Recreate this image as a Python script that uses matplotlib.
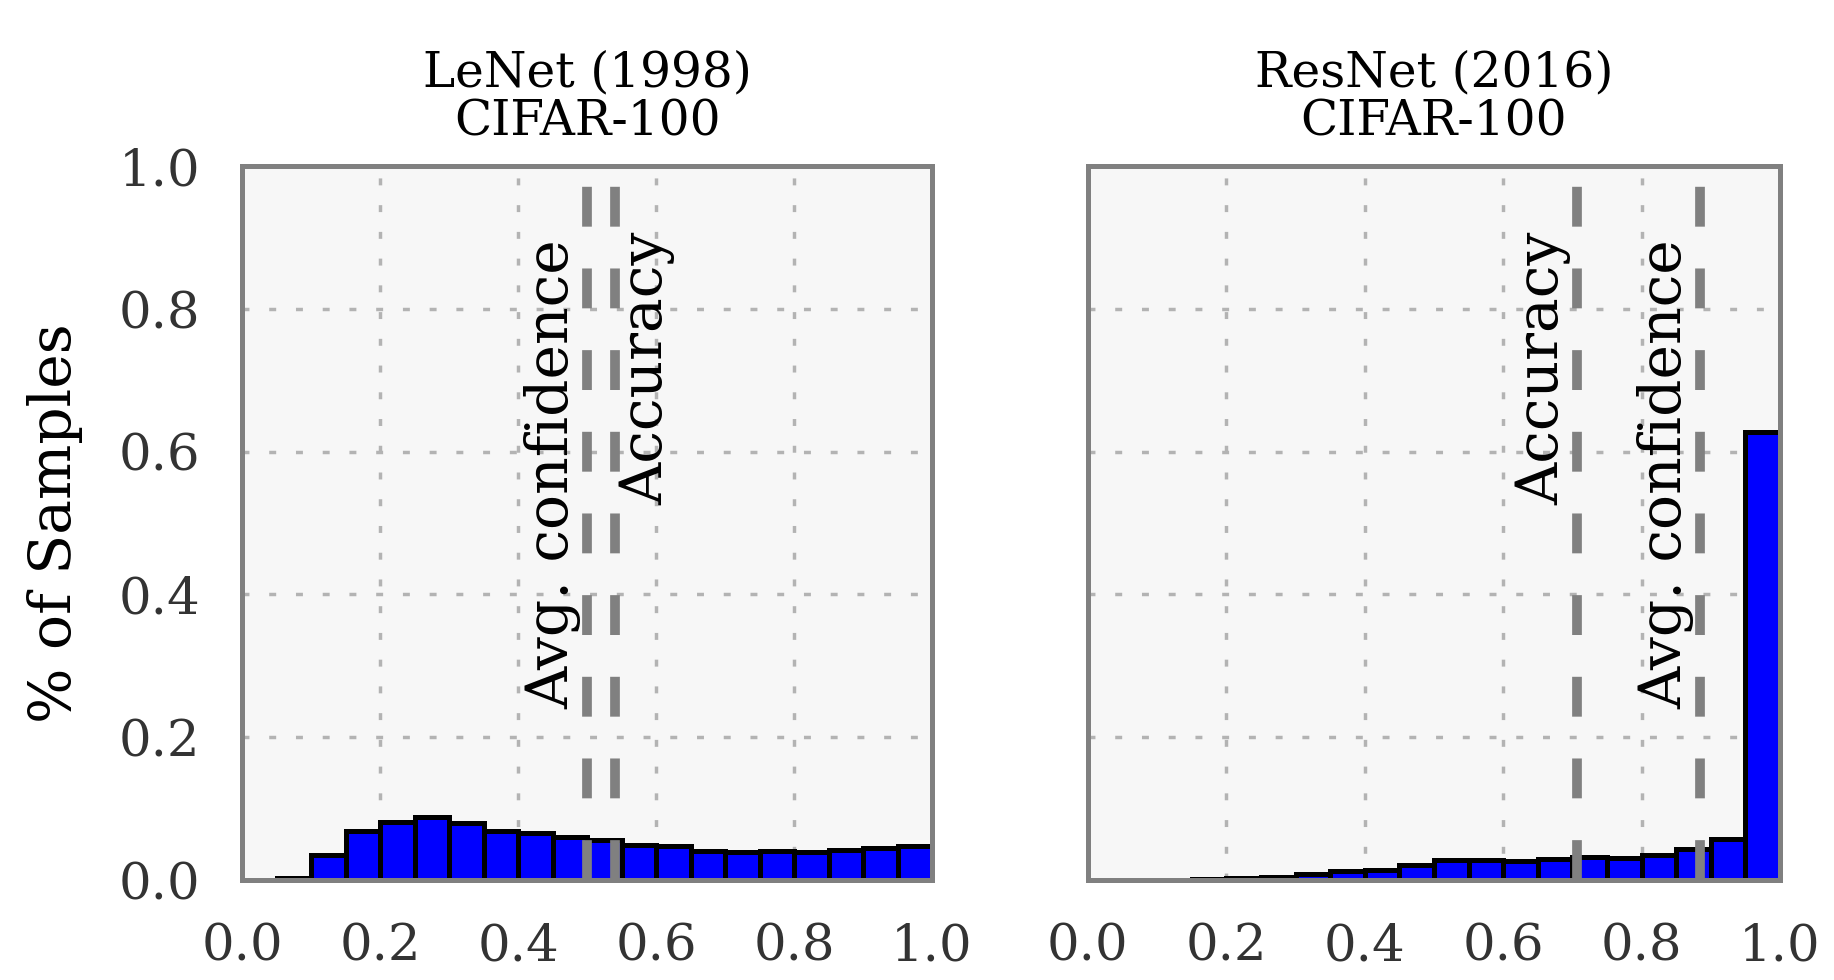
import numpy as np
import matplotlib
matplotlib.use("Agg")
import matplotlib.pyplot as plt

plt.rcParams["font.family"] = "DejaVu Serif"

# confidence histograms, 20 bins of width 0.05 (fraction of samples per bin)
bin_edges = np.linspace(0.0, 1.0, 21)
lenet_hist = [0.000, 0.003, 0.035, 0.069, 0.081, 0.088, 0.080, 0.068, 0.066, 0.060,
              0.056, 0.049, 0.047, 0.041, 0.039, 0.040, 0.039, 0.042, 0.045, 0.047]
resnet_hist = [0.000, 0.000, 0.000, 0.001, 0.003, 0.004, 0.009, 0.012, 0.014, 0.021,
               0.028, 0.028, 0.026, 0.030, 0.032, 0.031, 0.035, 0.043, 0.058, 0.628]

# accuracy / average confidence markers
lenet_acc, lenet_conf = 0.54, 0.50
resnet_acc, resnet_conf = 0.707, 0.885

titles = ["LeNet (1998)\nCIFAR-100", "ResNet (2016)\nCIFAR-100"]
ticks = [0.0, 0.2, 0.4, 0.6, 0.8, 1.0]

fig = plt.figure(figsize=(18.34, 9.8), dpi=100)
ax1 = fig.add_axes([0.132, 0.102, 0.3762, 0.7286])
ax2 = fig.add_axes([0.5932, 0.102, 0.3773, 0.7286], sharey=ax1)

# (axes, title, hist, [(value, label, text bottom, side of line)])
panels = [(ax1, titles[0], lenet_hist,
           [(lenet_acc, "Accuracy", 0.525, "right"), (lenet_conf, "Avg. confidence", 0.24, "left")]),
          (ax2, titles[1], resnet_hist,
           [(resnet_acc, "Accuracy", 0.525, "left"), (resnet_conf, "Avg. confidence", 0.24, "left")])]

for ax, title, hist, marks in panels:
    ax.set_facecolor("#f7f7f7")
    ax.set_axisbelow(True)
    ax.grid(True, color="#b3b3b3", lw=2.5, linestyle=(0, (2, 5.7)))
    ax.bar(bin_edges[:-1], hist, width=0.05, align="edge", color="blue",
           edgecolor="black", linewidth=3.6, zorder=1)

    # dashed markers with rotated labels
    for val, label, yy, side in marks:
        ax.axvline(val, color="#808080", lw=7, dashes=(4.1, 4.3), zorder=2.2)
        if side == "left":
            ax.text(val - 0.008, yy, label, rotation=90, ha="right", va="bottom",
                    fontsize=42, color="black", zorder=3)
        else:
            ax.text(val + 0.007, yy, label, rotation=90, ha="left", va="bottom",
                    fontsize=42, color="black", zorder=3)

    ax.set_xlim(0, 1)
    ax.set_ylim(0, 1)
    ax.set_xticks(ticks)
    ax.set_yticks(ticks)
    ax.tick_params(length=0, pad=30, labelsize=37, labelcolor="#333333")
    for s in ax.spines.values():
        s.set_color("#808080")
        s.set_linewidth(3.6)
    ax.set_title(title, fontsize=35, pad=22, linespacing=1.05, color="black")

ax2.tick_params(labelleft=False)
ax1.set_ylabel("% of Samples", fontsize=42, color="black")
ax1.yaxis.set_label_coords(-0.23, 0.5)

fig.savefig("out.png", dpi=100)
